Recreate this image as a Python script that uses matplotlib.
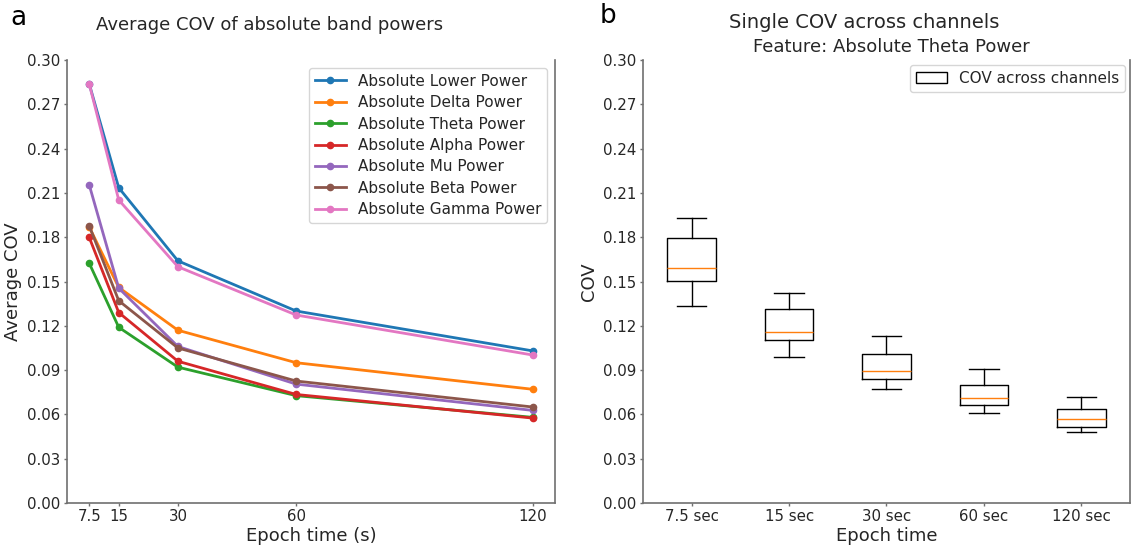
import matplotlib
matplotlib.use("Agg")
import matplotlib.pyplot as plt
from matplotlib.patches import Patch
from matplotlib.ticker import FormatStrFormatter

# Panel a: average COV per band
epochs = [7.5, 15, 30, 60, 120]
lower = [0.284, 0.2135, 0.164, 0.130, 0.103]
delta = [0.187, 0.146, 0.117, 0.095, 0.077]
theta = [0.1625, 0.119, 0.092, 0.0727, 0.058]
alpha = [0.180, 0.129, 0.096, 0.0735, 0.0575]
mu = [0.2156, 0.1455, 0.106, 0.0805, 0.0627]
beta = [0.1878, 0.137, 0.105, 0.0826, 0.065]
gamma = [0.284, 0.2052, 0.160, 0.1273, 0.1002]
band_names = ["Absolute Lower Power", "Absolute Delta Power", "Absolute Theta Power",
              "Absolute Alpha Power", "Absolute Mu Power", "Absolute Beta Power",
              "Absolute Gamma Power"]
colors = ["#1f77b4", "#ff7f0e", "#2ca02c", "#d62728", "#9467bd", "#8c564b", "#e377c2"]

# Panel b: box stats of theta COV across channels
epoch_labels = ["7.5 sec", "15 sec", "30 sec", "60 sec", "120 sec"]
whislo = [0.1336, 0.0991, 0.0770, 0.0607, 0.0481]
q1 = [0.1503, 0.1102, 0.0842, 0.0662, 0.0517]
med = [0.1589, 0.1158, 0.0894, 0.0711, 0.0569]
q3 = [0.1797, 0.1312, 0.1009, 0.0797, 0.0639]
whishi = [0.1928, 0.1424, 0.1129, 0.0905, 0.0720]

text_col = "#262626"
spine_col = "#707070"

fig = plt.figure(figsize=(11.39, 5.48), dpi=100)
ax1 = fig.add_axes([0.0588, 0.0821, 0.4285, 0.8084])
ax2 = fig.add_axes([0.5645, 0.0821, 0.4276, 0.8084])

for ax in (ax1, ax2):
    ax.spines["top"].set_visible(False)
    for s in ("left", "right", "bottom"):
        ax.spines[s].set_color(spine_col)
        ax.spines[s].set_linewidth(1.2)
    ax.set_ylim(0, 0.30)
    ax.set_yticks([i * 0.03 for i in range(11)])
    ax.yaxis.set_major_formatter(FormatStrFormatter("%.2f"))
    ax.tick_params(labelsize=10.8, labelcolor=text_col, color=spine_col,
                   length=2.5, width=1, pad=2)

# left panel
series = [lower, delta, theta, alpha, mu, beta, gamma]
for vals, name, c in zip(series, band_names, colors):
    ax1.plot(epochs, vals, marker="o", markersize=4.5, lw=2, color=c, label=name)
ax1.set_xticks(epochs)
ax1.set_xticklabels(["7.5", "15", "30", "60", "120"])
ax1.set_xlabel("Epoch time (s)", fontsize=13, color=text_col, labelpad=2)
ax1.set_ylabel("Average COV", fontsize=13, color=text_col, labelpad=4)
leg1 = ax1.legend(loc="upper right", fontsize=11, labelcolor=text_col,
                  labelspacing=0.42)
leg1.get_frame().set_edgecolor("#cccccc")

# right panel
stats = []
for i in range(len(epoch_labels)):
    stats.append({"whislo": whislo[i], "q1": q1[i], "med": med[i], "q3": q3[i],
                  "whishi": whishi[i], "fliers": [], "label": epoch_labels[i]})
ax2.bxp(stats, widths=0.5, capwidths=0.3, showfliers=False,
        boxprops=dict(color="black", lw=1),
        whiskerprops=dict(color="black", lw=1),
        capprops=dict(color="black", lw=1),
        medianprops=dict(color="#ff7f0e", lw=1))
ax2.set_xlim(0.5, 5.5)
ax2.set_xlabel("Epoch time", fontsize=13, color=text_col, labelpad=2)
ax2.set_ylabel("COV", fontsize=13, color=text_col, labelpad=4)
h = Patch(facecolor="white", edgecolor="black", label="COV across channels")
leg2 = ax2.legend(handles=[h], loc="upper right", borderaxespad=0.3,
                  fontsize=11, labelcolor=text_col)
leg2.get_frame().set_edgecolor("#cccccc")

# titles and panel letters
fig.text(270 / 1139, 1 - 25 / 548, "Average COV of absolute band powers",
         ha="center", va="center", fontsize=13, color=text_col)
fig.text(864 / 1139, 1 - 23 / 548, "Single COV across channels",
         ha="center", va="center", fontsize=14, color=text_col)
fig.text(891 / 1139, 1 - 47 / 548, "Feature: Absolute Theta Power",
         ha="center", va="center", fontsize=13, color=text_col)
fig.text(18 / 1139, 1 - 18 / 548, "a", ha="center", va="center", fontsize=19, color="black")
fig.text(608 / 1139, 1 - 16 / 548, "b", ha="center", va="center", fontsize=19, color="black")

fig.savefig("out.png", dpi=100)
